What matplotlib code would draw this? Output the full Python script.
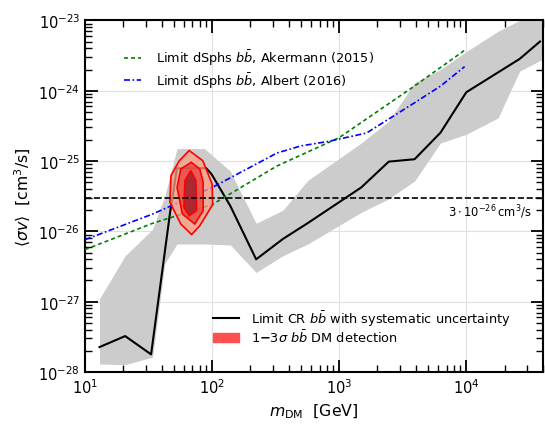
import matplotlib
matplotlib.use('Agg')
import matplotlib.pyplot as plt
import matplotlib.patches as mpatches
import matplotlib.colors as mcolors
from matplotlib.lines import Line2D
import numpy as np

# --- datos ---
m_limite = [13.0, 20.7, 33.1, 46.7, 52.9, 90, 99, 139, 222, 361, 566, 1489, 2455, 3919, 6266, 10000, 26300, 38000]
sv_limite = [2.26e-28, 3.24e-28, 1.78e-28, 1.85e-26, 7.9e-26, 7.9e-26, 6.5e-26, 2.3e-26, 4.0e-27,
             7.8e-27, 1.31e-26, 4.2e-26, 9.8e-26, 1.06e-25, 2.53e-25, 9.5e-25, 2.83e-24, 5.0e-24]

m_banda = [13.0, 20.7, 34, 42.5, 52.9, 87, 139, 222, 361, 566, 1489, 2455, 3919, 6266, 10000, 17800, 26300, 40000]
sv_banda_sup = [1.1e-27, 4.5e-27, 1.07e-26, 3.2e-26, 1.5e-25, 1.5e-25, 7.2e-26, 1.3e-26, 2.0e-26,
                5.3e-26, 1.8e-25, 3.7e-25, 1.3e-24, 2.0e-24, 3.6e-24, 7e-24, 1e-23, 1.2e-23]
sv_banda_inf = [1.3e-28, 1.27e-28, 1.63e-28, 3.5e-27, 6.6e-27, 6.6e-27, 6.4e-27, 2.6e-27, 4.5e-27,
                6.6e-27, 1.86e-26, 2.9e-26, 5.2e-26, 1.8e-25, 2.4e-25, 4.1e-25, 1.9e-24, 2.8e-24]

m_akermann = [10, 34, 100, 324, 1000, 3900, 9700]
sv_akermann = [5.5e-27, 1.3e-26, 2.4e-26, 8.5e-26, 2.15e-25, 1.16e-24, 3.75e-24]

m_albert = [10, 34, 100, 324, 500, 824, 1640, 3900, 6266, 9700]
sv_albert = [7.6e-27, 1.76e-26, 4.2e-26, 1.3e-25, 1.64e-25, 1.9e-25, 2.5e-25, 6.7e-25, 1.16e-24, 2.2e-24]

# contornos 1-3 sigma (vertices)
m_3s = [66, 84.5, 100, 101, 80, 69, 56.7, 46.5, 47.5, 55]
sv_3s = [1.41e-25, 1.01e-25, 4.7e-26, 2.4e-26, 1.2e-26, 9.0e-27, 1.27e-26, 2.6e-26, 6.2e-26, 1.0e-25]
m_2s = [68.5, 80, 85, 85, 73, 58.3, 53, 56.7]
sv_2s = [9.6e-26, 7.7e-26, 5.0e-26, 1.97e-26, 1.27e-26, 1.77e-26, 4.2e-26, 7.7e-26]
m_1s = [67.9, 74.5, 75.5, 65.8, 60, 61.2]
sv_1s = [7.3e-26, 5.3e-26, 1.97e-26, 1.67e-26, 2.2e-26, 5.3e-26]

sv_termico = 3e-26

fig = plt.figure(figsize=(5.45, 4.27), dpi=100)
ax = fig.add_axes([0.156, 0.1265, 0.840, 0.8235])

ax.fill_between(m_banda, sv_banda_inf, sv_banda_sup, color='#cccccc', lw=0, zorder=1)
ax.plot(m_limite, sv_limite, color='k', lw=1.5, zorder=3)
ax.plot(m_akermann, sv_akermann, color='green', dashes=(2.4, 1.8), lw=1.2, zorder=3)
ax.plot(m_albert, sv_albert, color='blue', dashes=(3.6, 1.5, 1.0, 1.5), lw=1.2, zorder=3)

for m, sv, c in [(m_3s, sv_3s, '#fc9f84'), (m_2s, sv_2s, '#e8413b'), (m_1s, sv_1s, '#981927')]:
    ax.add_patch(mpatches.Polygon(np.column_stack([m, sv]), closed=True,
                                  facecolor=mcolors.to_rgba(c, 0.75),
                                  edgecolor='red', lw=1.2, zorder=4))

ax.axhline(sv_termico, color='k', ls='--', lw=1.2, zorder=5)
ax.text(3.3e4, 1.95e-26, r'$3\cdot10^{-26}\,\mathrm{cm^3/s}$', fontsize=8.3, ha='right', va='center')

ax.set_xscale('log')
ax.set_yscale('log')
ax.set_xlim(10, 4e4)
ax.set_ylim(1e-28, 1e-23)
ax.grid(True, which='major', color='0.88', lw=0.8, zorder=0)
ax.set_axisbelow(True)
ax.tick_params(which='both', direction='in', top=True, right=True, labelsize=10.5)
ax.tick_params(which='major', length=9, width=1.3)
ax.tick_params(which='minor', length=5, width=1.0)
for s in ax.spines.values():
    s.set_linewidth(1.5)

ax.set_xlabel(r'$m_{\rm DM}$  [GeV]', fontsize=11.3)
ax.set_ylabel(r'$\langle\sigma v\rangle$  [cm$^3$/s]', fontsize=11.3)

h1 = [Line2D([], [], color='green', dashes=(2.4, 1.8), lw=1.2),
      Line2D([], [], color='blue', dashes=(3.6, 1.5, 1.0, 1.5), lw=1.2)]
leg1 = ax.legend(h1, [r'Limit dSphs $b\bar{b}$, Akermann (2015)', r'Limit dSphs $b\bar{b}$, Albert (2016)'],
                 loc='upper left', bbox_to_anchor=(0.06, 0.955), frameon=False, fontsize=9.3,
                 handlelength=1.3, handletextpad=1.2, labelspacing=0.22)
ax.add_artist(leg1)
h2 = [Line2D([], [], color='k', lw=1.5), mpatches.Patch(color='#ff5050')]
ax.legend(h2, [r'Limit CR $b\bar{b}$ with systematic uncertainty', r'$1\mathbf{-}3\sigma$ $b\bar{b}$ DM detection'],
          loc='upper left', bbox_to_anchor=(0.255, 0.215), frameon=False, fontsize=9.3,
          handlelength=2.0, handletextpad=0.9, labelspacing=0.1)

plt.savefig('out.png', dpi=100)
